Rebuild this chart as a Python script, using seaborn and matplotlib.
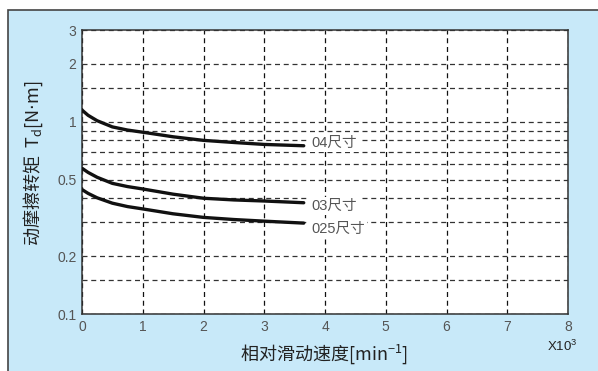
import numpy as np
import pandas as pd
import matplotlib
matplotlib.use("Agg")
import matplotlib.pyplot as plt
import seaborn as sns
from matplotlib.patches import Rectangle
from matplotlib.ticker import FixedLocator, NullFormatter

# speed in x10^3 min^-1, torque in N*m
speed = [0.0, 0.1, 0.25, 0.5, 0.75, 1.0, 1.5, 2.0, 2.5, 3.0, 3.65]
torque_04 = [1.15, 1.08, 1.012, 0.94, 0.905, 0.882, 0.835, 0.80, 0.78, 0.762, 0.75]
torque_03 = [0.573, 0.545, 0.514, 0.478, 0.46, 0.447, 0.42, 0.40, 0.392, 0.387, 0.379]
torque_025 = [0.444, 0.424, 0.402, 0.377, 0.362, 0.352, 0.332, 0.318, 0.31, 0.304, 0.297]
sizes = ["04尺寸", "03尺寸", "025尺寸"]
label_pos = [0.78, 0.365, 0.276]

y_major = [0.1, 0.2, 0.5, 1, 2, 3]
y_grid = [0.15, 0.3, 0.4, 0.6, 0.7, 0.8, 0.9, 1.5]

df = pd.DataFrame({
    "speed": speed * 3,
    "torque": torque_04 + torque_03 + torque_025,
    "size": [s for s in sizes for _ in speed],
})

sns.set_style("white")
plt.rcParams["font.family"] = ["Liberation Sans", "Noto Sans CJK SC", "DejaVu Sans"]

fig = plt.figure(figsize=(5.98, 3.71), dpi=100)
fig.patch.set_facecolor("white")
bg = Rectangle((8 / 598, -0.01), 1.0, (371 - 10) / 371 + 0.01, transform=fig.transFigure,
               facecolor="#c8e9f9", edgecolor="#444444", linewidth=1.2, zorder=-1)
fig.patches.append(bg)

ax = fig.add_axes([82 / 598, (371 - 314) / 371, (568 - 82) / 598, (314 - 30) / 371])
ax.set_zorder(2)
ax.set_facecolor("white")

sns.lineplot(data=df, x="speed", y="torque", hue="size", palette=["#111111"] * 3,
             linewidth=2.4, legend=False, ax=ax, zorder=3)

ax.set_yscale("log")
ax.set_xlim(0, 8)
ax.set_ylim(0.1, 3)
ax.set_xticks(range(0, 9))
ax.yaxis.set_major_locator(FixedLocator(y_major))
ax.yaxis.set_minor_locator(FixedLocator(y_grid))
ax.yaxis.set_minor_formatter(NullFormatter())
ax.set_yticklabels(["0.1", "0.2", "0.5", "1", "2", "3"])

ax.grid(True, which="both", axis="y", color="#333333", linestyle=(0, (4, 3)), linewidth=0.9)
ax.grid(True, which="major", axis="x", color="#111111", linestyle=(0, (4, 3)), linewidth=0.9)
ax.tick_params(which="both", length=0, labelsize=10, labelcolor="#555555", pad=4)
for sp in ax.spines.values():
    sp.set_color("#333333")
    sp.set_linewidth(1.1)
ax.set_xlabel("")
ax.set_ylabel("")

for s, yv in zip(sizes, label_pos):
    ax.text(3.78, yv, s, fontsize=10.5, color="#555555", va="center", ha="left",
            family=["Liberation Sans", "Noto Sans CJK SC"], zorder=4,
            bbox=dict(facecolor="white", edgecolor="none", pad=1.5))

fig.text(33 / 598, 1 - 163 / 371, r"动摩擦转矩  T$_\mathregular{d}$[N$\cdot$m]", rotation=90,
         ha="center", va="center", fontsize=13, color="#222222",
         family="Noto Sans CJK SC", fontweight="medium")
fig.text(324 / 598, 1 - 354 / 371, r"相对滑动速度[min$^{\mathregular{-1}}$]",
         ha="center", va="center", fontsize=13, color="#222222",
         family="Noto Sans CJK SC", fontweight="medium")
fig.text(562 / 598, 1 - 346 / 371, r"X10$^{\mathregular{3}}$", ha="center", va="center",
         fontsize=9.5, color="#222222", family="Liberation Sans")

fig.savefig("out.png", dpi=100, facecolor="white")
